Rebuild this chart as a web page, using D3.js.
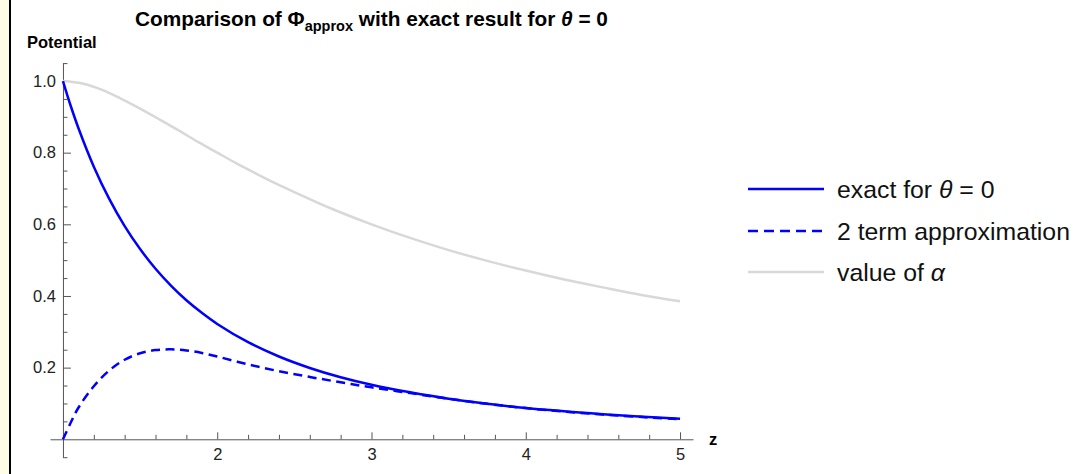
<!DOCTYPE html>
<html>
<head>
<meta charset="utf-8">
<script src="https://cdn.jsdelivr.net/npm/d3@7"></script>
<style>
  html, body { margin: 0; padding: 0; background: #fff; }
  svg { display: block; font-family: "Liberation Sans", Arial, Helvetica, sans-serif; }
</style>
</head>
<body>
<svg id="chart" width="1075" height="474"></svg>
<script>
// ---- data ----
const zExact  = [1.0, 1.05, 1.1, 1.2, 1.3, 1.4, 1.5, 1.6, 1.7, 1.8, 1.9, 2.0, 2.2, 2.4, 2.6, 2.8, 3.0, 3.25, 3.5, 3.75, 4.0, 4.5, 5.0];
const exactValues = [1.000, 0.931, 0.869, 0.761, 0.671, 0.595, 0.531, 0.476, 0.429, 0.388, 0.353, 0.322, 0.271, 0.231, 0.199, 0.173, 0.152, 0.131, 0.113, 0.099, 0.087, 0.070, 0.057];
const approxValues = [0.000, 0.046, 0.088, 0.148, 0.192, 0.222, 0.240, 0.249, 0.251, 0.248, 0.241, 0.231, 0.209, 0.190, 0.174, 0.159, 0.145, 0.129, 0.113, 0.099, 0.087, 0.069, 0.056];
const zAlpha = [1.0, 1.125, 1.25, 1.375, 1.5, 1.625, 1.75, 1.875, 2.0, 2.125, 2.25, 2.375, 2.5, 2.75, 3.0, 3.25, 3.5, 3.75, 4.0, 4.25, 4.5, 4.75, 5.0];
const alphaValues = [1.000, 0.993, 0.976, 0.951, 0.923, 0.893, 0.862, 0.830, 0.800, 0.770, 0.742, 0.715, 0.690, 0.642, 0.600, 0.562, 0.528, 0.498, 0.471, 0.446, 0.424, 0.403, 0.385];

const xMajorTicks = [2, 3, 4, 5];
const xMinorTicks = [1.2, 1.4, 1.6, 1.8, 2.2, 2.4, 2.6, 2.8, 3.2, 3.4, 3.6, 3.8, 4.2, 4.4, 4.6, 4.8];
const yMajorTicks = [0.2, 0.4, 0.6, 0.8, 1.0];
const yMinorTicks = [-0.05, 0.05, 0.1, 0.15, 0.25, 0.3, 0.35, 0.45, 0.5, 0.55, 0.65, 0.7, 0.75, 0.85, 0.9, 0.95, 1.05];

const legendLabels = ["exact for ", "2 term approximation", "value of "];

// ---- drawing ----
const svg = d3.select("#chart");

// left strip + border
svg.append("rect").attr("x", 0).attr("y", 0).attr("width", 9).attr("height", 474).attr("fill", "#fffde6");
svg.append("rect").attr("x", 9).attr("y", 0).attr("width", 2).attr("height", 474).attr("fill", "#000");

const x = d3.scaleLinear().domain([0.916, 5.084]).range([50, 693]);
const y = d3.scaleLinear().domain([-0.05, 1.05]).range([457.2, 63.1]);

const axisColor = "#555";
const labelColor = "#222";

// X axis (ticks point up)
const gx = svg.append("g").attr("transform", `translate(0,${y(0)})`);
gx.call(d3.axisBottom(x).tickValues(xMajorTicks).tickSizeInner(-7).tickSizeOuter(0).tickPadding(9).tickFormat(d3.format("d")));
const gxm = svg.append("g").attr("transform", `translate(0,${y(0)})`);
gxm.call(d3.axisBottom(x).tickValues(xMinorTicks).tickSizeInner(-4.5).tickSizeOuter(0).tickFormat(""));
gxm.select(".domain").remove();

// Y axis (ticks point right)
const gy = svg.append("g").attr("transform", `translate(${x(1)},0)`);
gy.call(d3.axisLeft(y).tickValues(yMajorTicks).tickSizeInner(-8).tickSizeOuter(0).tickPadding(7).tickFormat(d3.format(".1f")));
const gym = svg.append("g").attr("transform", `translate(${x(1)},0)`);
gym.call(d3.axisLeft(y).tickValues(yMinorTicks).tickSizeInner(-4.5).tickSizeOuter(0).tickFormat(""));
gym.select(".domain").remove();

svg.selectAll(".domain, .tick line").attr("stroke", axisColor).attr("stroke-width", 1);
svg.selectAll(".tick text").attr("fill", labelColor).attr("font-size", 16.5).attr("font-family", "Liberation Sans, Arial, sans-serif");

// lines
const line = (zs) => d3.line().x((d, i) => x(zs[i])).y(d => y(d)).curve(d3.curveCatmullRom.alpha(0.5));

svg.append("path").datum(alphaValues).attr("d", line(zAlpha))
  .attr("fill", "none").attr("stroke", "#d8d8d8").attr("stroke-width", 2.5);
svg.append("path").datum(approxValues).attr("d", line(zExact))
  .attr("fill", "none").attr("stroke", "#0000ff").attr("stroke-width", 2.5).attr("stroke-dasharray", "9,5.5");
svg.append("path").datum(exactValues).attr("d", line(zExact))
  .attr("fill", "none").attr("stroke", "#0000ff").attr("stroke-width", 2.5);

// title
const title = svg.append("text").attr("x", 371.5).attr("y", 25.5).attr("text-anchor", "middle")
  .attr("font-size", 20.8).attr("font-weight", "bold").attr("fill", "#000");
title.append("tspan").text("Comparison of Φ");
title.append("tspan").attr("font-size", 14.5).attr("dy", 5).text("approx");
title.append("tspan").attr("dy", -5).text(" with exact result for ");
title.append("tspan").attr("font-style", "italic").text("θ");
title.append("tspan").text(" = 0");

// axis labels
svg.append("text").attr("x", 27).attr("y", 47.5).attr("font-size", 16.5).attr("font-weight", "bold").attr("fill", "#000").text("Potential");
svg.append("text").attr("x", 709).attr("y", 445).attr("font-size", 16.5).attr("font-weight", "bold").attr("fill", "#000").text("z");

// legend
const legendY = [189, 231, 272];
const legendStyles = [
  { stroke: "#0000ff", dash: null },
  { stroke: "#0000ff", dash: "10,6" },
  { stroke: "#d8d8d8", dash: null }
];
const lg = svg.append("g");
legendLabels.forEach((lab, i) => {
  lg.append("line").attr("x1", 748).attr("x2", 824).attr("y1", legendY[i]).attr("y2", legendY[i])
    .attr("stroke", legendStyles[i].stroke).attr("stroke-width", 2.5)
    .attr("stroke-dasharray", legendStyles[i].dash);
  const t = lg.append("text").attr("x", 837).attr("y", legendY[i]).attr("dy", "0.35em")
    .attr("font-size", 24.8).attr("fill", "#111");
  t.append("tspan").text(lab);
  if (i === 0) {
    t.append("tspan").attr("font-style", "italic").text("θ");
    t.append("tspan").text(" = 0");
  } else if (i === 2) {
    t.append("tspan").attr("font-style", "italic").text("α");
  }
});
</script>
</body>
</html>
